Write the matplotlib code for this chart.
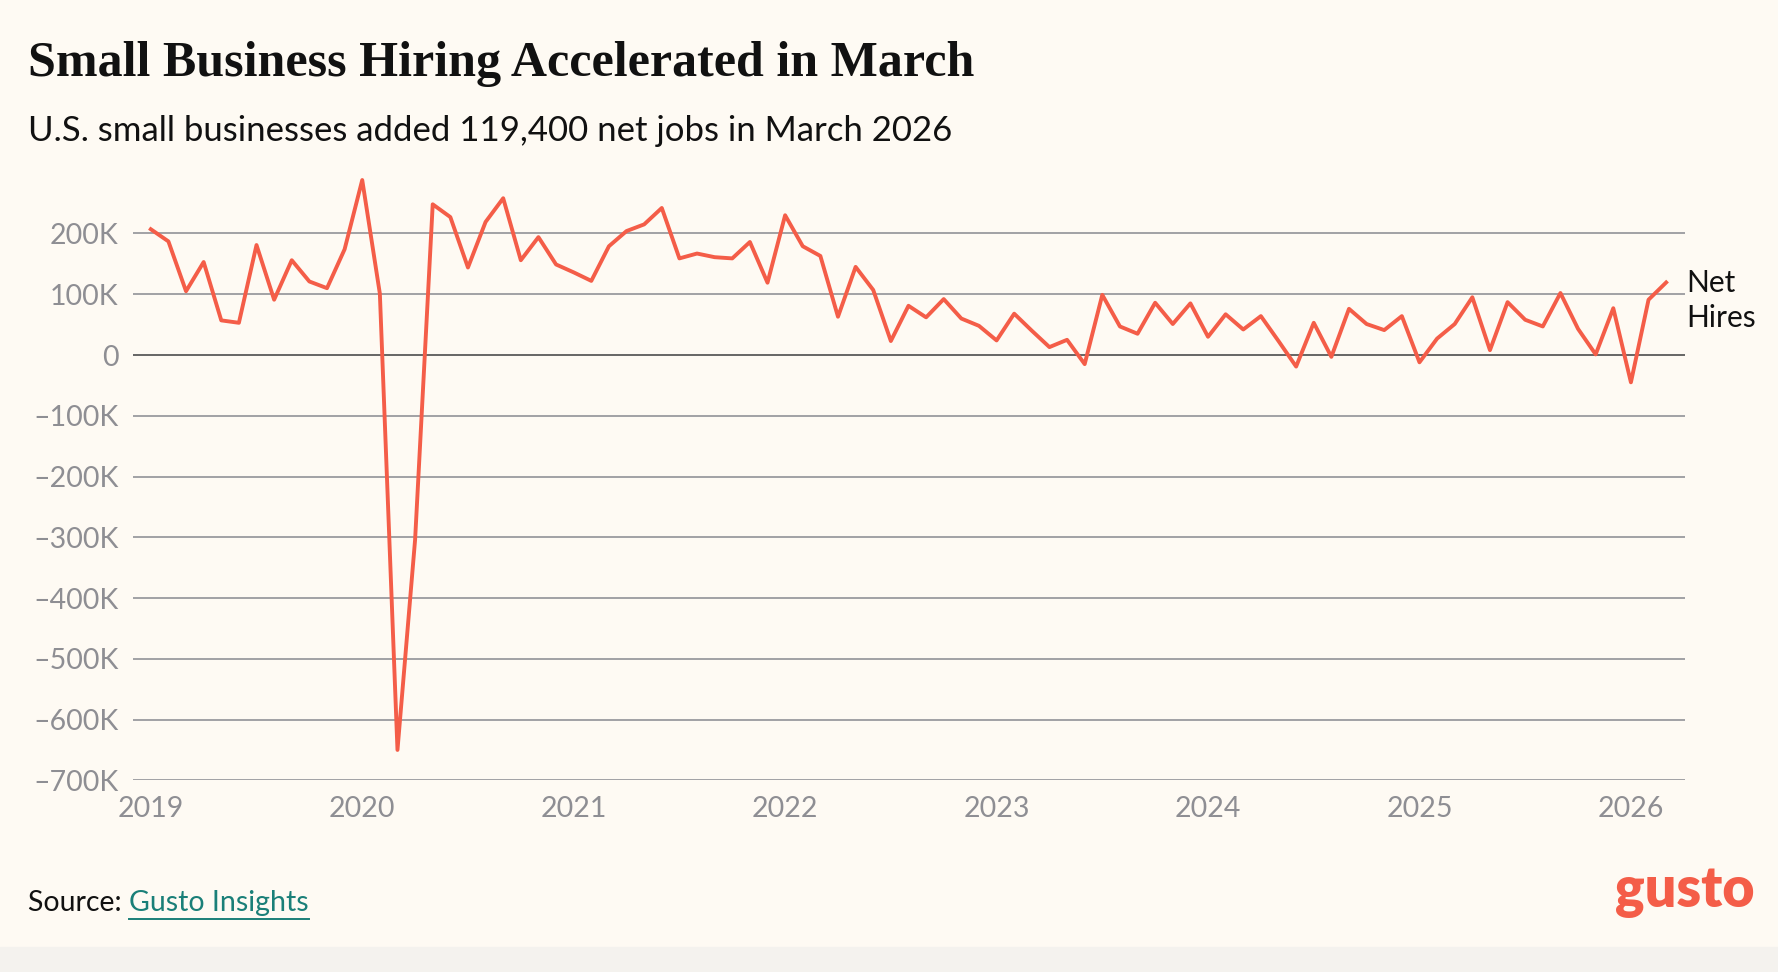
import matplotlib.pyplot as plt
from matplotlib.patches import Rectangle

# monthly net hires, thousands, Jan 2019 .. Mar 2026
years = [2019, 2020, 2021, 2022, 2023, 2024, 2025, 2026]
hires_k = [
    207, 187, 105, 153, 57, 53, 181, 91, 156, 121, 110, 174,       # 2019
    288, 101, -650, -304, 248, 227, 144, 219, 258, 156, 194, 149,  # 2020
    136, 122, 179, 204, 215, 242, 159, 167, 161, 159, 186, 119,    # 2021
    230, 179, 163, 63, 145, 107, 23, 81, 62, 92, 60, 48,           # 2022
    24, 68, 40, 13, 25, -15, 99, 47, 35, 86, 51, 85,               # 2023
    30, 67, 42, 64, 23, -19, 53, -3, 76, 51, 41, 64,               # 2024
    -12, 27, 51, 95, 8, 87, 58, 47, 102, 43, 1, 77,                # 2025
    -45, 91, 119.4,                                                # 2026
]
y_ticks = [-700, -600, -500, -400, -300, -200, -100, 0, 100, 200]
y_labels = ["0" if v == 0 else f"{v}K".replace("-", "\u2013") for v in y_ticks]

bg = "#FEFAF3"
coral = "#F45D48"
grey_txt = "#8E8E93"
grid_c = "#9A9A9E"

plt.rcParams['font.family'] = ['Lato', 'DejaVu Sans']

fig = plt.figure(figsize=(17.78, 9.72), dpi=100, facecolor=bg)
fig.patches.append(Rectangle((0, 0), 1, 0.0257, transform=fig.transFigure,
                             color="#F4F2EE", zorder=0))

ax = fig.add_axes([0.0746, 0.1972, 0.8731, 0.6251])
ax.set_facecolor(bg)

months = list(range(len(hires_k)))
for v in y_ticks:
    ax.axhline(v, color="#5A5A5A" if v == 0 else grid_c, lw=1.3, zorder=1)
ax.plot(months, hires_k, color=coral, lw=2.8, zorder=3, clip_on=False)

ax.set_xlim(-1.03, 87.07)
ax.set_ylim(-700, 300)
for s in ax.spines.values():
    s.set_visible(False)
ax.set_yticks(y_ticks, y_labels)
ax.set_xticks([12 * i for i in range(len(years))], [str(y) for y in years])
ax.tick_params(axis='both', length=0, labelsize=20.5, colors=grey_txt)
ax.tick_params(axis='y', pad=10)
ax.tick_params(axis='x', pad=11)

ax.text(1.001, 90, "Net\nHires", transform=ax.get_yaxis_transform(),
        ha='left', va='center', fontsize=21.5, color="#111111", linespacing=1.3)

fig.text(0.0158, 0.9218, "Small Business Hiring Accelerated in March",
         family=['Liberation Serif'], weight='bold', fontsize=36,
         color="#111111", va='baseline')
fig.text(0.0158, 0.8553, "U.S. small businesses added 119,400 net jobs in March 2026",
         fontsize=25, color="#111111", va='baseline')

src = fig.text(0.0158, 0.063, "Source: ", fontsize=20.5, color="#111111", va='baseline')
fig.canvas.draw()
r = fig.canvas.get_renderer()
bb = src.get_window_extent(r).transformed(fig.transFigure.inverted())
link = fig.text(bb.x1, 0.063, "Gusto Insights", fontsize=20.5, color="#1A7F78", va='baseline')
lb = link.get_window_extent(r).transformed(fig.transFigure.inverted())
fig.lines.append(plt.Line2D([lb.x0, lb.x1], [0.055, 0.055], transform=fig.transFigure,
                            color="#1A7F78", lw=1.4))

fig.text(0.987, 0.0665, "gusto", fontsize=40, weight='heavy', color=coral,
         ha='right', va='baseline')

fig.savefig("out.png", dpi=100, facecolor=bg)
